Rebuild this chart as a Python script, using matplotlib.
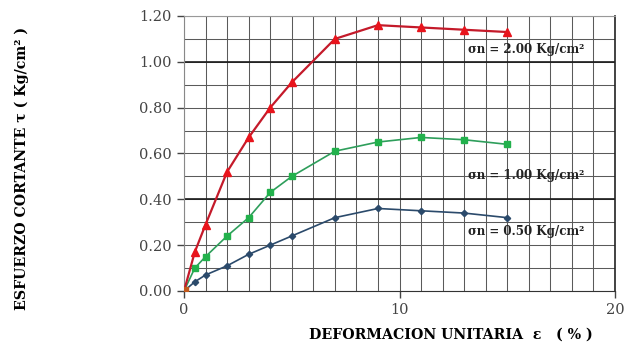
import numpy as np
import matplotlib.pyplot as plt
from matplotlib.ticker import MultipleLocator, FormatStrFormatter

# deformacion unitaria (%) y esfuerzo cortante (Kg/cm2) por carga normal
strain = [0, 0.5, 1, 2, 3, 4, 5, 7, 9, 11, 13, 15]
tau_200 = [0, 0.17, 0.29, 0.52, 0.67, 0.80, 0.91, 1.10, 1.16, 1.15, 1.14, 1.13]
tau_100 = [0, 0.10, 0.15, 0.24, 0.32, 0.43, 0.50, 0.61, 0.65, 0.67, 0.66, 0.64]
tau_050 = [0, 0.04, 0.07, 0.11, 0.16, 0.20, 0.24, 0.32, 0.36, 0.35, 0.34, 0.32]

labels = ['σn = 2.00 Kg/cm²', 'σn = 1.00 Kg/cm²', 'σn = 0.50 Kg/cm²']
label_pos = [(15.9, 1.055), (15.9, 0.505), (15.9, 0.26)]

fig = plt.figure(figsize=(6.24, 3.5), dpi=100)
ax = fig.add_axes([0.2949, 0.1686, 0.6907, 0.7857])

ax.plot(strain, tau_050, color='#2b4a6b', lw=1.2, marker='D', ms=3.2,
        mfc='#2b4a6b', mec='#2b4a6b', zorder=4)
ax.plot(strain, tau_100, color='#2e9e5b', lw=1.2, marker='s', ms=5,
        mfc='#22b14c', mec='#22b14c', zorder=4)
ax.plot(strain, tau_200, color='#c41a2a', lw=1.6, marker='^', ms=5.5,
        mfc='#e8141c', mec='#e8141c', zorder=5)
ax.plot(strain[0], tau_200[0], marker='s', ms=6, color='#c25a1c', zorder=6)

for txt, (x, y) in zip(labels, label_pos):
    ax.text(x, y, txt, ha='center', va='center', fontsize=8.6,
            fontweight='bold', family='DejaVu Serif', color='#222222', zorder=7)

ax.set_xlim(0, 20)
ax.set_ylim(0, 1.2)
ax.xaxis.set_major_locator(MultipleLocator(10))
ax.xaxis.set_minor_locator(MultipleLocator(1))
ax.yaxis.set_major_locator(MultipleLocator(0.2))
ax.yaxis.set_minor_locator(MultipleLocator(0.1))
ax.yaxis.set_major_formatter(FormatStrFormatter('%.2f'))

ax.grid(which='both', color='#5a5a5a', lw=0.75)
# lineas de referencia mas marcadas
for yy in (0.4, 1.0):
    ax.axhline(yy, color='#1a1a1a', lw=1.2, zorder=1)
ax.set_axisbelow(True)
ax.tick_params(which='major', length=5, width=1, color='#444444',
               labelsize=10.5, labelcolor='#444444', pad=4)
ax.tick_params(which='minor', length=0)
for lab in ax.get_xticklabels() + ax.get_yticklabels():
    lab.set_family('DejaVu Serif')

ax.spines['left'].set_color('#888888')
ax.spines['top'].set_color('#999999')
ax.spines['bottom'].set_color('#333333')
ax.spines['right'].set_color('#222222')
ax.spines['right'].set_linewidth(1.2)

ax.set_xlabel('DEFORMACION UNITARIA  ε   ( % )', fontsize=10.2,
              fontweight='bold', family='DejaVu Serif', x=0.62, labelpad=7)
fig.text(0.035, 0.52, 'ESFUERZO CORTANTE τ ( Kg/cm² )', rotation=90,
         ha='center', va='center', fontsize=10.2, fontweight='bold',
         family='DejaVu Serif')

fig.savefig('out.png', dpi=100)
